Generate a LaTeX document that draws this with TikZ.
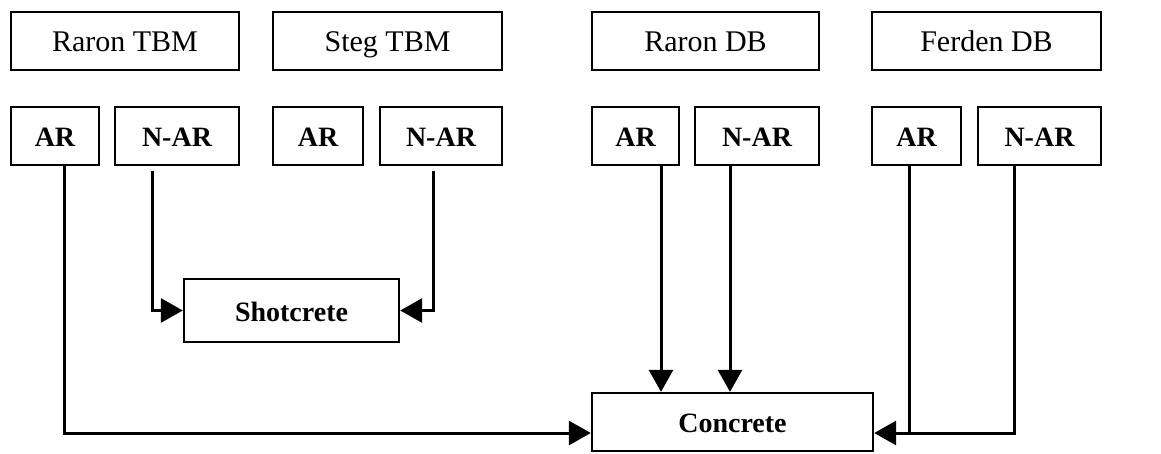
\documentclass[tikz,border=0pt]{standalone}
\usepackage{fontspec}
\setmainfont{Liberation Serif}
\usetikzlibrary{arrows.meta}

\begin{document}
\begin{tikzpicture}[x=1pt, y=-1pt,
  every node/.style={draw, line width=2.4pt, inner sep=0pt, minimum height=58pt, text depth=0pt},
  site/.style={font=\fontsize{30}{36}\selectfont, text height=21pt},
  part/.style={font=\fontsize{28}{34}\selectfont\bfseries, text height=21pt},
  link/.style={line width=3pt},
  flow/.style={link, -{Triangle[length=22pt, width=24pt]}}]
\useasboundingbox (0,0) rectangle (1161,453);

\node[site, minimum width=228pt] (raronTBM) at (125,41) {Raron TBM};
\node[site, minimum width=229pt] (stegTBM) at (387.5,41) {Steg TBM};
\node[site, minimum width=227pt] (raronDB) at (705.5,41) {Raron DB};
\node[site, minimum width=229pt] (ferdenDB) at (986.5,41) {Ferden DB};

\node[part, minimum width=88pt] (ar1) at (55,136) {AR};
\node[part, minimum width=124pt] (nar1) at (177,136) {N-AR};
\node[part, minimum width=90pt] (ar2) at (318,136) {AR};
\node[part, minimum width=122pt] (nar2) at (441,136) {N-AR};
\node[part, minimum width=87pt] (ar3) at (635.5,136) {AR};
\node[part, minimum width=124pt] (nar3) at (757,136) {N-AR};
\node[part, minimum width=89pt] (ar4) at (916.5,136) {AR};
\node[part, minimum width=123pt] (nar4) at (1039.5,136) {N-AR};

\node[part, minimum width=215pt, minimum height=63pt] (shotcrete) at (291.5,310.5) {Shotcrete};
\node[part, minimum width=281pt] (concrete) at (732.5,422) {Concrete};

\coordinate (cw) at ([yshift=-11pt]concrete.west);
\coordinate (ce) at ([yshift=-11pt]concrete.east);
\coordinate (a1) at ([xshift=9pt]ar1.south);
\coordinate (n1) at ([xshift=-25pt,yshift=-5pt]nar1.south);
\coordinate (n2) at ([xshift=-8pt,yshift=-5pt]nar2.south);
\coordinate (a3) at ([xshift=25.5pt]ar3.south);
\coordinate (n3) at ([xshift=-27pt]nar3.south);
\coordinate (a4) at ([xshift=-7.5pt]ar4.south);
\coordinate (n4) at ([xshift=-25.5pt]nar4.south);

\draw[flow] (n1) |- (shotcrete.west);
\draw[flow] (n2) |- (shotcrete.east);
\draw[flow] (a1) |- (cw);
\draw[flow] (a3) -- (a3 |- concrete.north);
\draw[flow] (n3) -- (n3 |- concrete.north);
\draw[link] (a4) -- (a4 |- ce);
\draw[flow] (n4) |- (ce);
\end{tikzpicture}
\end{document}
